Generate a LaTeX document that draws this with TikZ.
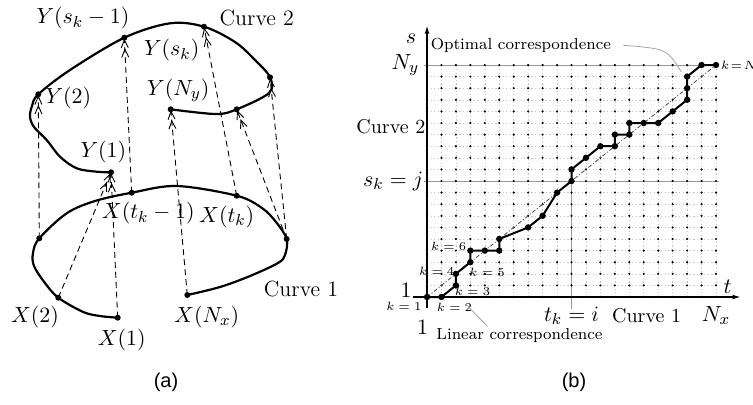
\documentclass[tikz,border=0pt]{standalone}
\usepackage{amsmath}
\usepackage{fontspec}
\newfontfamily\capfont{Liberation Sans}
\usetikzlibrary{arrows.meta}
\tikzset{
  curve line/.style={
    line width=1.1pt,
    line cap=round,
    line join=round
  },
  match line/.style={
    line width=0.45pt,
    dash pattern=on 3pt off 2pt,
    -{Straight Barb[length=4pt,width=3.5pt] Straight Barb[length=4pt,width=3.5pt]},
    shorten >=0.5pt
  },
  curve dot/.style={
    circle,
    fill=black,
    inner sep=0pt,
    minimum size=3pt
  },
  curve label/.style={
    font=\fontsize{11}{13}\selectfont,
    inner sep=1pt
  },
  grid line/.style={
    gray!45,
    line width=0.3pt,
    dash pattern=on 0.6pt off 1.2pt
  },
  guide line/.style={
    gray!80,
    line width=0.35pt
  },
  axis line/.style={
    line width=0.6pt,
    -{Latex[length=4pt,width=2.4pt]}
  },
  path dot/.style={
    circle,
    fill=black,
    inner sep=0pt,
    minimum size=3.2pt
  },
  optimal path/.style={
    line width=1pt,
    line join=round
  },
  linear path/.style={
    gray!60!black,
    line width=0.4pt,
    dash pattern=on 2pt off 1pt on 0.5pt off 1pt
  },
  note line/.style={
    gray!70,
    line width=0.4pt
  },
  axis label/.style={
    font=\fontsize{11}{13}\selectfont,
    inner sep=1pt
  },
  note label/.style={
    font=\fontsize{8}{10}\selectfont,
    inner sep=1pt
  },
  step label/.style={
    font=\fontsize{6}{7}\selectfont,
    inner sep=0.5pt
  }
}

\begin{document}
\begin{tikzpicture}[x=0.5pt, y=-0.5pt]
    \useasboundingbox (0,0) rectangle (753,404);

    % (a) two curves and their point matches
    \begin{scope}
      % points of curve 2
      \node[curve dot] (Y1)   at (111,172.3) {};
      \node[curve dot] (Y2)   at (38.3,94.3) {};
      \node[curve dot] (Yskm) at (124.3,37.7) {};
      \node[curve dot] (Ysk)  at (204,26.7) {};
      \node[curve dot] (Yr)   at (270,77.3) {};
      \node[curve dot] (Yq)   at (236.7,109.3) {};
      \node[curve dot] (YNy)  at (170.7,109.3) {};
      % points of curve 1
      \node[curve dot] (X1)   at (117.7,317.7) {};
      \node[curve dot] (X2)   at (58.3,297.7) {};
      \node[curve dot] (Xl)   at (39.3,238.3) {};
      \node[curve dot] (Xtkm) at (131.7,192.7) {};
      \node[curve dot] (Xtk)  at (236.7,195.7) {};
      \node[curve dot] (Xr)   at (286.7,239) {};
      \node[curve dot] (XNx)  at (187.3,295) {};
      % curve 2
      \draw[curve line] plot[smooth, tension=0.55] coordinates {(Y1.center) (96.7,171.7) (76.7,168.3)
        (60,156.7) (46.7,140) (34,127) (30,116.7) (32,106) (Y2.center) (70,70) (Yskm.center)
        (170,23.3) (Ysk.center) (235,42) (255,60) (Yr.center) (269,93) (Yq.center) (216,114) (YNy.center)};
      % curve 1
      \draw[curve line] plot[smooth, tension=0.55] coordinates {(X1.center) (100,316) (83.3,312)
        (X2.center) (45,283) (34,266) (33,253) (Xl.center) (66.7,213.3) (95,201) (Xtkm.center)
        (176.7,186) (Xtk.center) (262,208) (276,222) (Xr.center) (285,255) (278,263) (250,276)
        (220,287) (XNx.center)};
      % matches
      \draw[match line] (X1.center) -- (Y1.center);
      \draw[match line] (X2.center) -- (Y1.center);
      \draw[match line] (Xl.center) -- (Y2.center);
      \draw[match line] (Xtkm.center) -- (Yskm.center);
      \draw[match line] (XNx.center) -- (YNy.center);
      \draw[match line] (Xtk.center) -- (Ysk.center);
      \draw[match line] (Xr.center) -- (Yq.center);
      \draw[match line] (Xr.center) -- (Yr.center);
      % labels
      \node[curve label] (lYskm) at (83,18) {$Y(s_k-1)$};
      \node[curve label] (lC2)   at (256.7,18.3) {Curve 2};
      \node[curve label] (lYsk)  at (171.7,50) {$Y(s_k)$};
      \node[curve label] (lY2)   at (68.3,98.3) {$Y(2)$};
      \node[curve label] (lYNy)  at (178.3,90) {$Y(N_y)$};
      \node[curve label] (lY1)   at (103.3,151.7) {$Y(1)$};
      \node[curve label] (lXtkm) at (148.3,213.3) {$X(t_k-1)$};
      \node[curve label] (lXtk)  at (226.7,216.7) {$X(t_k)$};
      \node[curve label] (lC1)   at (301,289) {Curve 1};
      \node[curve label] (lX2)   at (35,316.7) {$X(2)$};
      \node[curve label] (lX1)   at (121.7,340) {$X(1)$};
      \node[curve label] (lXNx)  at (206.7,316.7) {$X(N_x)$};
      \node[font=\capfont\fontsize{10}{12}\selectfont] (capa) at (166,382) {(a)};
    \end{scope}

    % (b) warping grid
    \begin{scope}[shift={(427,297)}, x=7.225pt, y=5.8pt]
      % grid
      \foreach \i in {1,...,20} \draw[grid line] (\i,0) -- (\i,20);
      \foreach \j in {1,...,19} \draw[grid line] (0,\j) -- (20,\j);
      \draw[guide line] (-0.2,20) -- (20,20);
      \draw[guide line] (-0.2,10) -- (20.2,10);
      \draw[guide line] (10,-1) -- (10,10);
      \foreach \i in {0,...,20}
        \foreach \j in {0,...,20}
          \fill (\i,\j) circle (0.6pt);
      % axes
      \coordinate (t tail) at (-1,0);
      \coordinate (t tip)  at (21.7,0);
      \coordinate (s tail) at (0,-0.95);
      \coordinate (s tip)  at (0,23.4);
      \draw[axis line] (t tail) -- (t tip);
      \draw[axis line] (s tail) -- (s tip);
      % linear correspondence
      \coordinate (lin start) at (0,0);
      \coordinate (lin end)   at (20,20);
      \draw[linear path] (lin start) -- (lin end);
      % optimal correspondence
      \foreach \c [count=\n] in {(0,0),(1,0),(2,1),(2,2),(3,3),(3,4),(4,4),(5,4),(5,5),(7,6),
          (8,7),(9,9),(10,10),(10,11),(11,12),(12,13),(13,13),(13,14),(14,14),(14,15),
          (15,15),(16,15),(17,16),(18,17),(18,18),(18,19),(19,20),(20,20)}
        \node[path dot] (p\n) at \c {};
      \draw[optimal path] (p1.center) \foreach \n in {2,...,28} {-- (p\n.center)};
      % step labels
      \node[step label] (k1) at (-1.6,-0.8) {$k=1$};
      \node[step label] (k2) at (1.9,-0.85) {$k=2$};
      \node[step label] (k3) at (3.15,0.45) {$k=3$};
      \node[step label] (k4) at (0.67,2.2) {$k=4$};
      \node[step label] (k5) at (4.15,2.15) {$k=5$};
      \node[step label] (k6) at (1.5,4.35) {$k=6$};
      \node[step label, anchor=west, inner sep=0pt] (kN) at ([xshift=0.5pt]p28.east) {$k\!=\!N$};
      % axis labels
      \node[axis label] (s lab)  at (-1.1,22.3) {$s$};
      \node[axis label] (Ny lab) at (-1.5,20) {$N_y$};
      \node[axis label, font=\fontsize{10}{12}\selectfont] (C2 lab) at (-2.5,14.7) {Curve 2};
      \node[axis label, left] (sj lab) at (-0.1,10) {$s_k=j$};
      \node[axis label] (one s) at (-1.45,0.55) {$1$};
      \node[axis label] (one t) at (-0.3,-2.6) {$1$};
      \node[axis label] (t lab)  at (20.8,0.9) {$t$};
      \node[axis label] (ti lab) at (10,-1.6) {$t_k=i$};
      \node[axis label, font=\fontsize{10}{12}\selectfont] (C1 lab) at (15.2,-1.6) {Curve 1};
      \node[axis label] (Nx lab) at (20,-1.6) {$N_x$};
      % notes
      \node[note label] (opt note) at (6.5,21.7) {Optimal correspondence};
      \node[note label] (lin note) at (6.4,-3.35) {Linear correspondence};
      \coordinate (opt tip) at (17.6,19.4);
      \coordinate (lin tip) at (2.75,-0.7);
      \draw[note line] ([xshift=5pt]opt note.east) .. controls (16.6,21.4) .. (opt tip);
      \draw[note line] ([xshift=-16pt]lin note.north) .. controls (3.5,-1.6) .. (lin tip);
    \end{scope}
    \node[font=\capfont\fontsize{10}{12}\selectfont] (capb) at (574,382) {(b)};

  \end{tikzpicture}
\end{document}
